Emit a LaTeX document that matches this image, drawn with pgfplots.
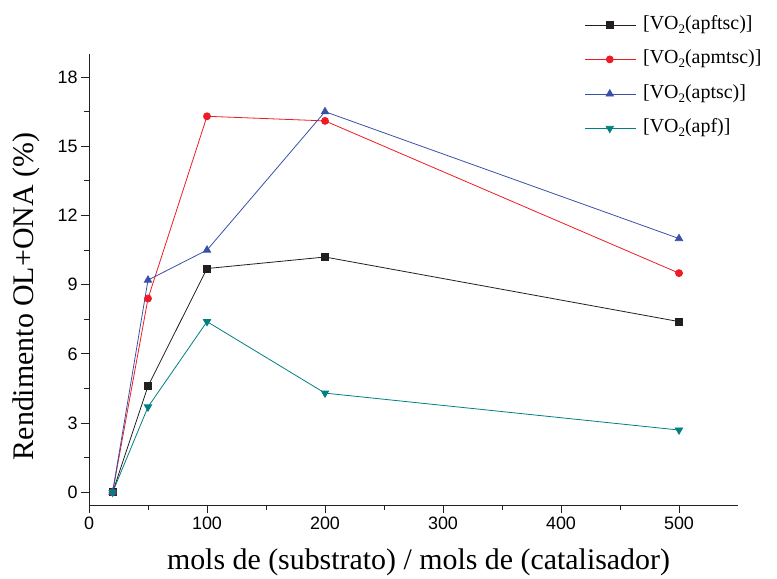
\documentclass[border=0pt]{standalone}
\usepackage{pgfplots}
\pgfplotsset{compat=1.18}
\usepackage{fontspec}
\setmainfont{Liberation Serif}
\newfontfamily\arial{Liberation Sans}
\definecolor{cblack}{RGB}{35,31,32}
\definecolor{cred}{RGB}{237,28,36}
\definecolor{cblue}{RGB}{58,80,168}
\definecolor{cteal}{RGB}{0,128,128}
\newcommand{\sub}[1]{\raisebox{-4bp}{\fontsize{13}{13}\selectfont #1}}
\begin{document}
\begin{tikzpicture}
\useasboundingbox (-89bp,-74bp) rectangle (688bp,505bp);
\begin{axis}[
  at={(0,0)}, anchor=south west,
  scale only axis, width=649bp, height=451bp,
  xmin=0, xmax=550, ymin=-0.55, ymax=19,
  axis x line=bottom, axis y line=left,
  axis line style={-, line width=0.9bp, cblack},
  xtick={0,100,...,500}, minor x tick num=1,
  ytick={0,3,...,18}, minor y tick num=1,
  tick align=outside,
  major tick length=8bp, minor tick length=5bp,
  tick style={line width=0.9bp, cblack},
  /pgf/number format/assume math mode=true,
  ticklabel style={font=\arial\fontsize{18}{18}\selectfont},
  xlabel={mols de (substrato) / mols de (catalisador)},
  ylabel={Rendimento OL+ONA (\%)},
  xlabel style={font=\fontsize{30}{30}\selectfont, at={(axis description cs:0.5,0)}, anchor=base, xshift=5bp, yshift=-64bp},
  ylabel style={font=\fontsize{30}{30}\selectfont, at={(axis description cs:0,0.5)}, anchor=center, xshift=-17bp, yshift=63bp},
  legend style={at={(axis description cs:0.763,1.086)}, anchor=north west,
    draw=none, fill=none, font=\fontsize{20}{20}\selectfont,
    inner sep=0pt, row sep=15.5bp,
    nodes={inner sep=0pt, text height=14bp, text depth=5bp}},
  legend cell align=left,
  legend image code/.code={\draw[mark repeat=2,mark phase=2,#1] plot coordinates {(0bp,0bp) (25bp,0bp) (51bp,0bp)}; \path (58bp,0bp);},
  every axis plot/.append style={line width=0.8bp},
  clip=false,
]
\addplot[cblack, mark=square*, mark size=3.5bp] coordinates {(20,0) (50,4.6) (100,9.7) (200,10.2) (500,7.4)};
\addlegendentry{[VO\sub{2}(apftsc)]}
\addplot[cred, mark=*, mark size=3.5bp] coordinates {(20,0) (50,8.4) (100,16.3) (200,16.1) (500,9.5)};
\addlegendentry{[VO\sub{2}(apmtsc)]}
\addplot[cblue, mark=triangle*, mark size=4.2bp] coordinates {(20,0) (50,9.2) (100,10.5) (200,16.5) (500,11.0)};
\addlegendentry{[VO\sub{2}(aptsc)]}
\addplot[cteal, mark=triangle*, mark size=4.2bp, mark options={rotate=180}] coordinates {(20,0) (50,3.7) (100,7.4) (200,4.3) (500,2.7)};
\addlegendentry{[VO\sub{2}(apf)]}
\end{axis}
\end{tikzpicture}
\end{document}
